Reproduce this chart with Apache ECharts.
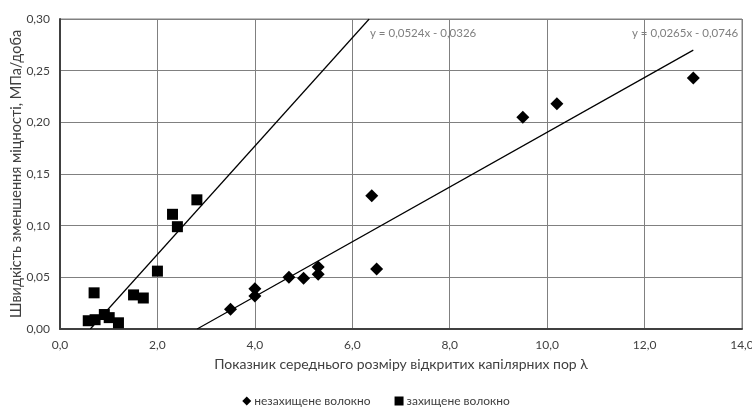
<!DOCTYPE html>
<html><head><meta charset="utf-8">
<script src="https://cdn.jsdelivr.net/npm/echarts@6/dist/echarts.min.js"></script>
<style>html,body{margin:0;padding:0;background:#fff}#c{width:752px;height:408px}</style>
</head><body><div id="c"></div>
<script>
// Unprotected fibre (diamonds)
const unprotX = [3.5, 4.0, 4.0, 4.7, 5.0, 5.3, 5.3, 6.4, 6.5, 9.5, 10.2, 13.0];
const unprotY = [0.019, 0.039, 0.032, 0.050, 0.049, 0.060, 0.053, 0.129, 0.058, 0.205, 0.218, 0.243];
// Protected fibre (squares)
const protX = [0.58, 0.70, 0.72, 0.91, 1.01, 1.20, 1.51, 1.71, 2.0, 2.31, 2.41, 2.81];
const protY = [0.008, 0.035, 0.009, 0.014, 0.011, 0.006, 0.033, 0.030, 0.056, 0.111, 0.099, 0.125];
// Trendline coefficients [slope, intercept]
const trendProt = [0.0524, -0.0326];
const trendUnprot = [0.0265, -0.0746];
const seriesNames = ['незахищене волокно', 'захищене волокно'];
const trendLabels = ['y = 0,0524x - 0,0326', 'y = 0,0265x - 0,0746'];
const xTicks = [0, 2, 4, 6, 8, 10, 12, 14];
const yTicks = [0, 0.05, 0.10, 0.15, 0.20, 0.25, 0.30];

const font = 'Lato, "Open Sans", sans-serif';
function zip(a, b) { return a.map((v, i) => [v, b[i]]); }
function trendPts(c, xEnd) {
  const x0 = -c[1] / c[0];
  const x1 = Math.min(xEnd, (yTicks[yTicks.length - 1] - c[1]) / c[0]);
  return [[x0, c[0] * x0 + c[1]], [x1, c[0] * x1 + c[1]]];
}
const chart = echarts.init(document.getElementById('c'), null, {renderer: 'canvas'});
chart.setOption({
  animation: false,
  textStyle: {fontFamily: font},
  grid: {left: 60, right: 10, top: 19, bottom: 79, containLabel: false, outerBoundsMode: 'none',
    show: true, borderColor: '#808080', borderWidth: 1},
  xAxis: {
    type: 'value', min: xTicks[0], max: xTicks[xTicks.length - 1], interval: 2,
    name: 'Показник середнього розміру відкритих капілярних пор λ',
    nameLocation: 'middle', nameGap: 28, nameMoveOverlap: false,
    nameTextStyle: {fontSize: 14, color: '#404040', fontFamily: font},
    axisLine: {lineStyle: {color: '#404040', width: 2}},
    axisTick: {show: false},
    axisLabel: {fontSize: 12, color: '#404040', margin: 10, fontFamily: font,
      formatter: v => v.toFixed(1).replace('.', ',')},
    splitLine: {show: true, lineStyle: {color: '#808080', width: 1}}
  },
  yAxis: {
    type: 'value', min: yTicks[0], max: yTicks[yTicks.length - 1], interval: 0.05,
    name: 'Швидкість зменшення міцності, МПа/доба',
    nameLocation: 'middle', nameGap: 36, nameMoveOverlap: false,
    nameTextStyle: {fontSize: 14.5, color: '#404040', fontFamily: font},
    axisLine: {show: true, lineStyle: {color: '#404040', width: 2}},
    axisTick: {show: false},
    axisLabel: {fontSize: 12, color: '#404040', margin: 10, fontFamily: font,
      formatter: v => v.toFixed(2).replace('.', ',')},
    splitLine: {show: true, lineStyle: {color: '#808080', width: 1}}
  },
  legend: {
    top: 395, left: 'center', itemGap: 24, itemWidth: 9, itemHeight: 9, padding: 0,
    textStyle: {fontSize: 12, color: '#404040', fontFamily: font, padding: [0, 0, 0, -2]},
    data: [{name: seriesNames[0], icon: 'diamond'}, {name: seriesNames[1], icon: 'rect'}]
  },
  graphic: [
    {type: 'text', left: 370, top: 27, style: {text: trendLabels[0], fill: '#7f7f7f', font: '11.5px ' + font}},
    {type: 'text', left: 632, top: 27, style: {text: trendLabels[1], fill: '#7f7f7f', font: '11.5px ' + font}}
  ],
  series: [
    {name: seriesNames[0], type: 'scatter', symbol: 'diamond', symbolSize: 13,
      itemStyle: {color: '#000', opacity: 1}, data: zip(unprotX, unprotY), z: 5},
    {name: seriesNames[1], type: 'scatter', symbol: 'rect', symbolSize: 11,
      itemStyle: {color: '#000', opacity: 1}, data: zip(protX, protY), z: 5},
    {type: 'line', data: trendPts(trendProt, 14), symbol: 'none', silent: true,
      lineStyle: {color: '#000', width: 1.2}, z: 4},
    {type: 'line', data: trendPts(trendUnprot, Math.max(...unprotX)), symbol: 'none', silent: true,
      lineStyle: {color: '#000', width: 1.2}, z: 4}
  ]
});
</script></body></html>
